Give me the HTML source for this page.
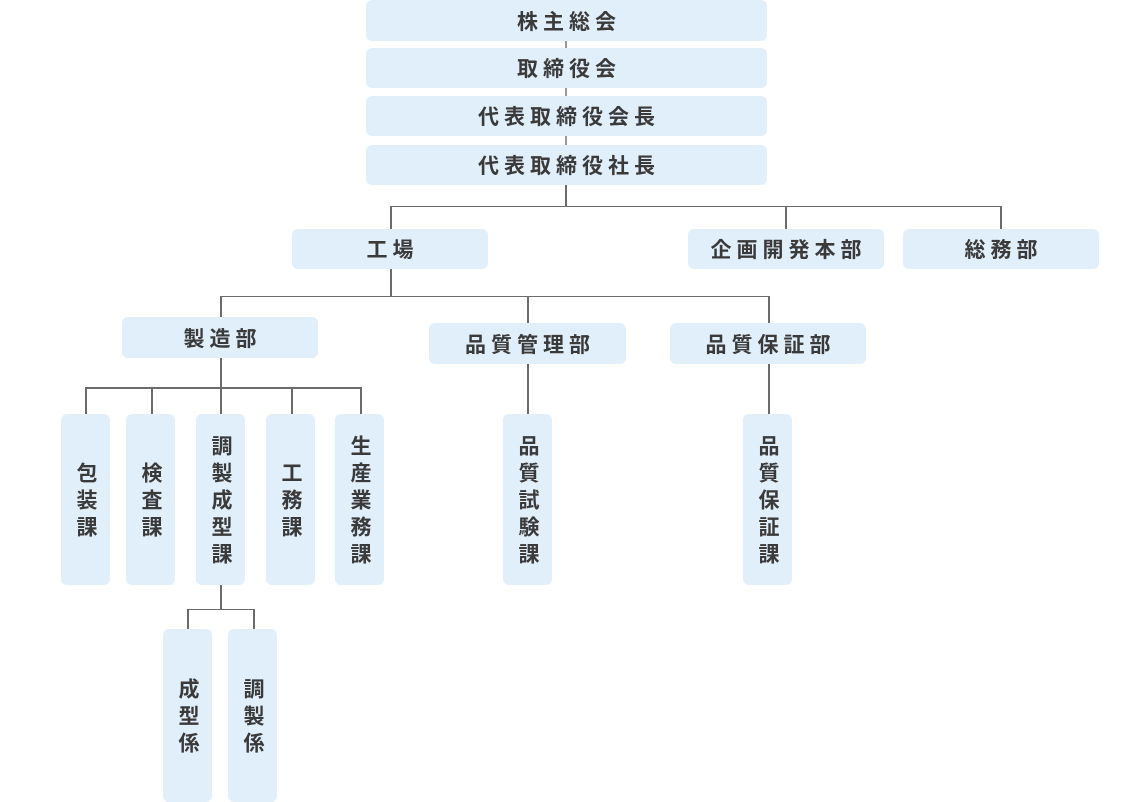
<!DOCTYPE html>
<html><head><meta charset="utf-8"><style>
html,body{margin:0;padding:0;background:#fff;width:1134px;height:802px;overflow:hidden;position:relative}
.b{position:absolute;background:#e1effb;border-radius:6px;display:flex;align-items:center;justify-content:center;color:#3a3a3a;font-family:"Liberation Sans","Noto Sans CJK JP",sans-serif;font-weight:bold;font-size:21px;letter-spacing:5px;box-sizing:border-box}
.h{padding-left:5px}
.v{writing-mode:vertical-rl;line-height:1;letter-spacing:6px;padding-top:6px;font-size:21px}
.l{position:absolute;background:#6b6b6b}
</style></head><body>
<div class="l" style="left:565px;top:41px;width:2px;height:7px;background:#999"></div>
<div class="l" style="left:565px;top:88px;width:2px;height:8px;background:#999"></div>
<div class="l" style="left:565px;top:136px;width:2px;height:9px;background:#999"></div>
<div class="l" style="left:565px;top:185px;width:1.5px;height:21px"></div>
<div class="l" style="left:390px;top:205.5px;width:611px;height:1.5px"></div>
<div class="l" style="left:390px;top:206px;width:1.5px;height:23px"></div>
<div class="l" style="left:785px;top:206px;width:1.5px;height:23px"></div>
<div class="l" style="left:1000px;top:206px;width:1.5px;height:23px"></div>
<div class="l" style="left:390px;top:269px;width:1.5px;height:27px"></div>
<div class="l" style="left:220px;top:295.5px;width:549px;height:1.5px"></div>
<div class="l" style="left:220px;top:296px;width:1.5px;height:21px"></div>
<div class="l" style="left:527px;top:296px;width:1.5px;height:27px"></div>
<div class="l" style="left:768px;top:296px;width:1.5px;height:27px"></div>
<div class="l" style="left:220px;top:358px;width:1.5px;height:56px"></div>
<div class="l" style="left:85px;top:387px;width:276px;height:1.5px"></div>
<div class="l" style="left:85px;top:387px;width:1.5px;height:27px"></div>
<div class="l" style="left:151px;top:387px;width:1.5px;height:27px"></div>
<div class="l" style="left:291px;top:387px;width:1.5px;height:27px"></div>
<div class="l" style="left:360px;top:387px;width:1.5px;height:27px"></div>
<div class="l" style="left:527px;top:364px;width:1.5px;height:50px"></div>
<div class="l" style="left:768px;top:364px;width:1.5px;height:50px"></div>
<div class="l" style="left:220px;top:585px;width:1.5px;height:24px"></div>
<div class="l" style="left:187px;top:608.5px;width:67px;height:1.5px"></div>
<div class="l" style="left:187px;top:609px;width:1.5px;height:20px"></div>
<div class="l" style="left:253px;top:609px;width:1.5px;height:20px"></div>
<div class="b h" style="left:366px;top:0;width:401px;height:41px">株主総会</div>
<div class="b h" style="left:366px;top:48px;width:401px;height:40px">取締役会</div>
<div class="b h" style="left:366px;top:96px;width:401px;height:40px">代表取締役会長</div>
<div class="b h" style="left:366px;top:145px;width:401px;height:40px">代表取締役社長</div>
<div class="b h" style="left:292px;top:229px;width:196px;height:40px">工場</div>
<div class="b h" style="left:688px;top:229px;width:196px;height:40px">企画開発本部</div>
<div class="b h" style="left:903px;top:229px;width:196px;height:40px">総務部</div>
<div class="b h" style="left:122px;top:317px;width:196px;height:41px">製造部</div>
<div class="b h" style="left:429px;top:323px;width:197px;height:41px">品質管理部</div>
<div class="b h" style="left:670px;top:323px;width:196px;height:41px">品質保証部</div>
<div class="b v" style="left:61px;top:414px;width:49px;height:171px">包装課</div>
<div class="b v" style="left:126px;top:414px;width:49px;height:171px">検査課</div>
<div class="b v" style="left:196px;top:414px;width:49px;height:171px">調製成型課</div>
<div class="b v" style="left:266px;top:414px;width:49px;height:171px">工務課</div>
<div class="b v" style="left:335px;top:414px;width:49px;height:171px">生産業務課</div>
<div class="b v" style="left:503px;top:414px;width:49px;height:171px">品質試験課</div>
<div class="b v" style="left:743px;top:414px;width:49px;height:171px">品質保証課</div>
<div class="b v" style="left:163px;top:629px;width:49px;height:173px">成型係</div>
<div class="b v" style="left:228px;top:629px;width:49px;height:173px">調製係</div>
</body></html>
